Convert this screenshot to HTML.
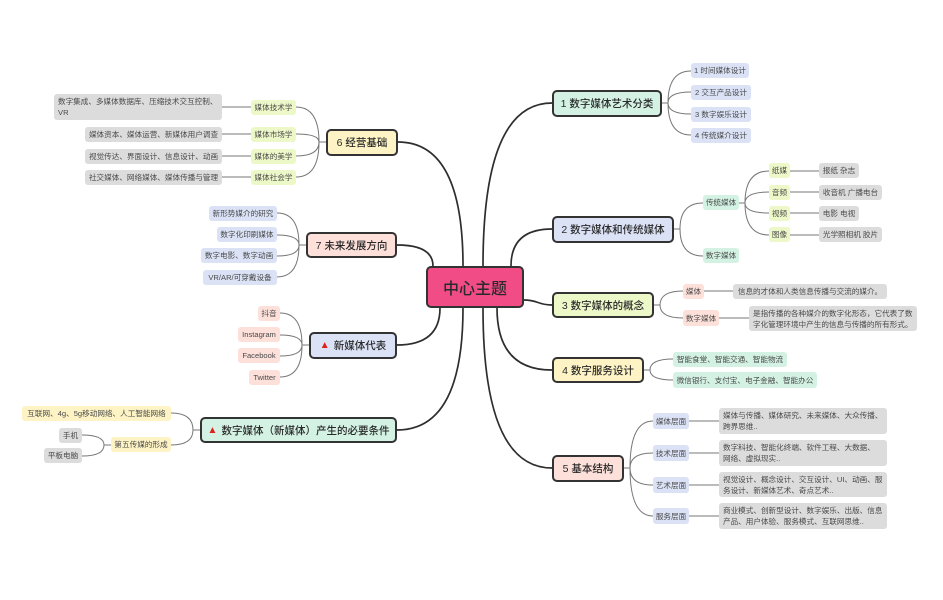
<!DOCTYPE html>
<html><head><meta charset="utf-8"><style>
*{margin:0;padding:0;box-sizing:border-box}
html,body{width:943px;height:600px;background:#fff;overflow:hidden}
body{position:relative;font-family:"Liberation Sans","Noto Sans CJK SC",sans-serif}
svg{position:absolute;left:0;top:0}
.n{position:absolute;display:flex;align-items:center;justify-content:center;white-space:nowrap}
.m{border:2px solid #333;border-radius:5px;font-size:10.5px;color:#2a2a2a;font-weight:500}
.l{border-radius:3px;font-size:7.6px;color:#4a4a4a}
.g{background:#dcdcdc}
.t{display:block;text-align:left;padding:2px 4px;line-height:11px}
.mint{background:#d3f2e3}.lav{background:#dbe2f6}.yg{background:#edf8c9}.yel{background:#fdf3c4}.pch{background:#fde0da}
.tri{color:#e0201a;font-size:10px;margin-right:4px}
</style></head><body>
<svg width="943" height="600" fill="none">
<g stroke="#2e2e2e" stroke-width="1.7">
<path d="M483,266 Q483,103 552,103"/>
<path d="M511,266 Q511,229 552,229"/>
<path d="M463,266 Q463,142 398,142"/>
<path d="M433,266 Q433,245 397,245"/>
<path d="M524,300 C538,300 538,305 552,305"/>
<path d="M440,308 Q440,345 397,345"/>
<path d="M463,308 Q463,430 397,430"/>
<path d="M483,308 Q483,468 552,468"/>
<path d="M497,308 Q497,370 552,370"/>
</g>
<g stroke="#777" stroke-width="1">
<path d="M662,103 L668,103 M668,103 Q668,71 691,71 M668,103 Q668,92 691,92 M668,103 Q668,114 691,114 M668,103 Q668,135 691,135"/>
<path d="M674,229 L680,229 M680,229 Q680,203 703,203 M680,229 Q680,256 703,256"/>
<path d="M739,203 L745,203 M745,203 Q745,171 769,171 M745,203 Q745,192 769,192 M745,203 Q745,213 769,213 M745,203 Q745,235 769,235"/>
<path d="M790,171 L819,171 M790,192 L819,192 M790,213 L819,213 M790,235 L819,235"/>
<path d="M654,305 L660,305 M660,305 Q660,291 683,291 M660,305 Q660,318 683,318"/>
<path d="M704,291 L733,291 M719,318 L749,318"/>
<path d="M644,370 L650,370 M650,370 Q650,359 673,359 M650,370 Q650,380 673,380"/>
<path d="M624,468 L630,468 M630,468 Q630,421 653,421 M630,468 Q630,453 653,453 M630,468 Q630,485 653,485 M630,468 Q630,516 653,516"/>
<path d="M689,421 L719,421 M689,453 L719,453 M689,485 L719,485 M689,516 L719,516"/>
<path d="M326,142 L319,142 M319,142 Q319,107 296,107 M319,142 Q319,134 296,134 M319,142 Q319,156 296,156 M319,142 Q319,177 296,177"/>
<path d="M251,107 L222,107 M251,134 L222,134 M251,156 L222,156 M251,177 L222,177"/>
<path d="M306,245 L299,245 M299,245 Q299,213 277,213 M299,245 Q299,235 277,235 M299,245 Q299,256 277,256 M299,245 Q299,277 277,277"/>
<path d="M309,345 L302,345 M302,345 Q302,313 280,313 M302,345 Q302,335 280,335 M302,345 Q302,356 280,356 M302,345 Q302,377 280,377"/>
<path d="M200,430 L193,430 M193,430 Q193,413 171,413 M193,430 Q193,445 171,445"/>
<path d="M111,445 L104,445 M104,445 Q104,435 82,435 M104,445 Q104,456 82,456"/>
</g>
</svg>

<div class="n" style="left:426px;top:266px;width:98px;height:42px;background:#f24c86;border:2.5px solid #333;border-radius:5px;font-size:16px;color:#2a2a2a;font-weight:500">中心主题</div>

<div class="n m mint" style="left:552px;top:90px;width:110px;height:27px">1 数字媒体艺术分类</div>
<div class="n m lav" style="left:552px;top:216px;width:122px;height:27px">2 数字媒体和传统媒体</div>
<div class="n m yg" style="left:552px;top:292px;width:102px;height:26px">3 数字媒体的概念</div>
<div class="n m yel" style="left:552px;top:357px;width:92px;height:26px">4 数字服务设计</div>
<div class="n m pch" style="left:552px;top:455px;width:72px;height:27px">5 基本结构</div>
<div class="n m yel" style="left:326px;top:129px;width:72px;height:27px">6 经营基础</div>
<div class="n m pch" style="left:306px;top:232px;width:91px;height:26px">7 未来发展方向</div>
<div class="n m lav" style="left:309px;top:332px;width:88px;height:27px"><span class="tri">▲</span>新媒体代表</div>
<div class="n m mint" style="left:200px;top:417px;width:197px;height:26px"><span class="tri">▲</span>数字媒体（新媒体）产生的必要条件</div>

<div class="n l lav" style="left:691px;top:63px;width:58px;height:15px">1 时间媒体设计</div>
<div class="n l lav" style="left:691px;top:85px;width:60px;height:15px">2 交互产品设计</div>
<div class="n l lav" style="left:691px;top:107px;width:60px;height:15px">3 数字娱乐设计</div>
<div class="n l lav" style="left:691px;top:128px;width:60px;height:15px">4 传统媒介设计</div>

<div class="n l mint" style="left:703px;top:195px;width:36px;height:15px">传统媒体</div>
<div class="n l mint" style="left:703px;top:248px;width:36px;height:15px">数字媒体</div>
<div class="n l yg" style="left:769px;top:163px;width:21px;height:15px">纸媒</div>
<div class="n l yg" style="left:769px;top:185px;width:21px;height:15px">音频</div>
<div class="n l yg" style="left:769px;top:206px;width:21px;height:15px">视频</div>
<div class="n l yg" style="left:769px;top:227px;width:21px;height:15px">图像</div>
<div class="n l g" style="left:819px;top:163px;width:40px;height:15px">报纸 杂志</div>
<div class="n l g" style="left:819px;top:185px;width:63px;height:15px">收音机 广播电台</div>
<div class="n l g" style="left:819px;top:206px;width:40px;height:15px">电影 电视</div>
<div class="n l g" style="left:819px;top:227px;width:63px;height:15px">光学照相机 胶片</div>

<div class="n l pch" style="left:683px;top:284px;width:21px;height:15px">媒体</div>
<div class="n l pch" style="left:683px;top:310px;width:36px;height:16px">数字媒体</div>
<div class="n l g" style="left:733px;top:284px;width:154px;height:15px">信息的才体和人类信息传播与交流的媒介。</div>
<div class="n l g t" style="left:749px;top:306px;width:168px;height:25px">是指传播的各种媒介的数字化形态，它代表了数<br>字化管理环境中产生的信息与传播的所有形式。</div>

<div class="n l mint" style="left:673px;top:352px;width:114px;height:15px">智能食堂、智能交通、智能物流</div>
<div class="n l mint" style="left:673px;top:372px;width:144px;height:16px">微信银行、支付宝、电子金融、智能办公</div>

<div class="n l lav" style="left:653px;top:413px;width:36px;height:16px">媒体层面</div>
<div class="n l lav" style="left:653px;top:445px;width:36px;height:16px">技术层面</div>
<div class="n l lav" style="left:653px;top:477px;width:36px;height:16px">艺术层面</div>
<div class="n l lav" style="left:653px;top:508px;width:36px;height:16px">服务层面</div>
<div class="n l g t" style="left:719px;top:408px;width:168px;height:26px">媒体与传播、媒体研究、未来媒体、大众传播、<br>跨界思维..</div>
<div class="n l g t" style="left:719px;top:440px;width:168px;height:26px">数字科技、智能化终端、软件工程、大数据、<br>网络、虚拟现实..</div>
<div class="n l g t" style="left:719px;top:472px;width:168px;height:25px">视觉设计、概念设计、交互设计、UI、动画、服<br>务设计、新媒体艺术、奇点艺术..</div>
<div class="n l g t" style="left:719px;top:503px;width:168px;height:26px">商业模式、创新型设计、数字娱乐、出版、信息<br>产品、用户体验、服务模式、互联网思维..</div>

<div class="n l yg" style="left:251px;top:100px;width:45px;height:15px">媒体技术学</div>
<div class="n l yg" style="left:251px;top:127px;width:45px;height:15px">媒体市场学</div>
<div class="n l yg" style="left:251px;top:149px;width:45px;height:15px">媒体的美学</div>
<div class="n l yg" style="left:251px;top:170px;width:45px;height:15px">媒体社会学</div>
<div class="n l g t" style="left:54px;top:94px;width:168px;height:26px">数字集成、多媒体数据库、压缩技术交互控制、<br>VR</div>
<div class="n l g" style="left:85px;top:127px;width:137px;height:15px">媒体资本、媒体运营、新媒体用户调查</div>
<div class="n l g" style="left:85px;top:149px;width:137px;height:15px">视觉传达、界面设计、信息设计、动画</div>
<div class="n l g" style="left:85px;top:170px;width:137px;height:15px">社交媒体、网络媒体、媒体传播与管理</div>

<div class="n l lav" style="left:209px;top:206px;width:68px;height:15px">新形势媒介的研究</div>
<div class="n l lav" style="left:217px;top:227px;width:60px;height:15px">数字化印刷媒体</div>
<div class="n l lav" style="left:201px;top:248px;width:76px;height:15px">数字电影、数字动画</div>
<div class="n l lav" style="left:203px;top:270px;width:74px;height:15px">VR/AR/可穿戴设备</div>

<div class="n l pch" style="left:258px;top:306px;width:22px;height:15px">抖音</div>
<div class="n l pch" style="left:238px;top:327px;width:42px;height:15px">Instagram</div>
<div class="n l pch" style="left:238px;top:348px;width:42px;height:15px">Facebook</div>
<div class="n l pch" style="left:249px;top:370px;width:31px;height:15px">Twitter</div>

<div class="n l yel" style="left:22px;top:406px;width:149px;height:15px">互联网、4g、5g移动网络、人工智能网络</div>
<div class="n l yel" style="left:111px;top:437px;width:60px;height:15px">第五传媒的形成</div>
<div class="n l g" style="left:59px;top:428px;width:23px;height:15px">手机</div>
<div class="n l g" style="left:44px;top:448px;width:38px;height:15px">平板电脑</div>
</body></html>
